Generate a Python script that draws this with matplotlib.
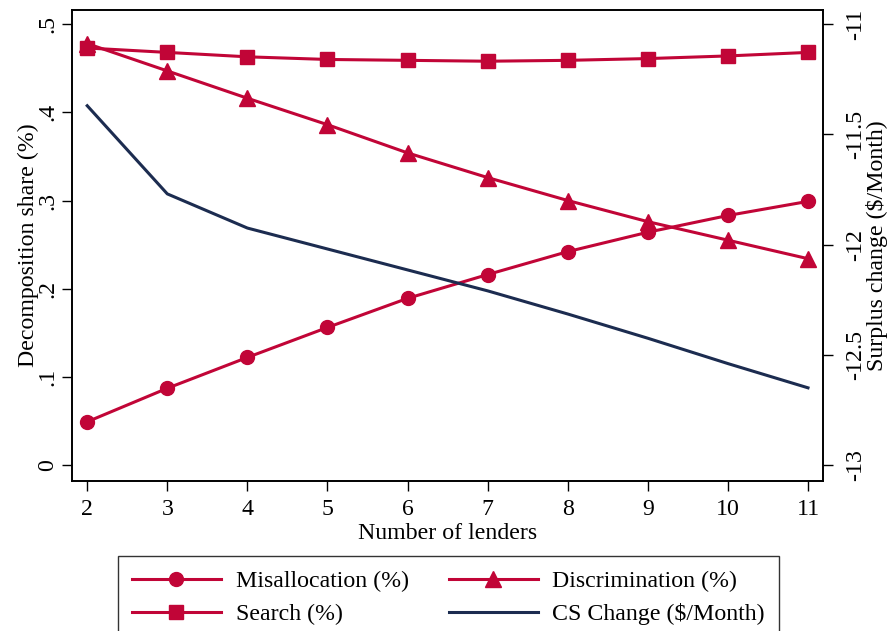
import matplotlib
matplotlib.use("Agg")
import matplotlib.pyplot as plt

plt.rcParams["font.family"] = ["Liberation Serif", "DejaVu Serif"]

lenders = [2, 3, 4, 5, 6, 7, 8, 9, 10, 11]
misallocation = [0.049, 0.087, 0.122, 0.156, 0.189, 0.216, 0.242, 0.264, 0.283, 0.299]
discrimination = [0.478, 0.447, 0.416, 0.386, 0.354, 0.326, 0.300, 0.276, 0.255, 0.234]
search = [0.473, 0.468, 0.463, 0.460, 0.459, 0.458, 0.459, 0.461, 0.464, 0.468]
cs_change = [-11.37, -11.77, -11.925, -12.02, -12.115, -12.21, -12.315, -12.425, -12.54, -12.65]

left_ticks = [0, 0.1, 0.2, 0.3, 0.4, 0.5]
left_labels = ["0", ".1", ".2", ".3", ".4", ".5"]
right_ticks = [-13, -12.5, -12, -11.5, -11]
right_labels = ["-13", "-12.5", "-12", "-11.5", "-11"]

red = "#C10537"
navy = "#1C2C50"
fs = 17.2

fig = plt.figure(figsize=(8.89, 6.31), dpi=100)
ax = fig.add_axes([0.081, 0.238, 0.845, 0.746])
ax2 = ax.twinx()

l1, = ax.plot(lenders, misallocation, color=red, lw=2.2, marker="o", ms=10, label="Misallocation (%)")
l2, = ax.plot(lenders, discrimination, color=red, lw=2.2, marker="^", ms=11, label="Discrimination (%)")
l3, = ax.plot(lenders, search, color=red, lw=2.2, marker="s", ms=9.5, label="Search (%)")
l4, = ax2.plot(lenders, cs_change, color=navy, lw=2.2, label="CS Change ($/Month)")

ax.set_xlim(1.81, 11.19)
ax.set_ylim(-0.018, 0.516)
ax2.set_ylim(-13.072, -10.936)

ax.set_xticks(lenders)
ax.set_yticks(left_ticks)
ax.set_yticklabels(left_labels)
ax2.set_yticks(right_ticks)
ax2.set_yticklabels(right_labels)

ax.tick_params(axis="both", labelsize=fs, length=7, width=1, direction="out")
ax.tick_params(axis="x", pad=6)
ax.tick_params(axis="y", labelrotation=90, pad=3)
ax2.tick_params(axis="y", labelsize=fs, length=7, width=1, direction="out", labelrotation=90, pad=9)
for lab in ax.get_yticklabels() + ax2.get_yticklabels():
    lab.set_va("center")

ax.set_xlabel("Number of lenders", fontsize=fs, labelpad=2)
ax.set_ylabel("Decomposition share (%)", fontsize=fs, labelpad=-1)
ax2.set_ylabel("Surplus change ($/Month)", fontsize=fs, rotation=90, labelpad=0)

for a in (ax, ax2):
    for s in a.spines.values():
        s.set_linewidth(1.2)
        s.set_color("black")

# row-wise order in the legend: Misallocation, Discrimination / Search, CS Change
leg = fig.legend([l1, l3, l2, l4], [l.get_label() for l in (l1, l3, l2, l4)],
                 loc="upper left", bbox_to_anchor=(0.1327, 0.119), ncol=2,
                 fontsize=fs, frameon=True, fancybox=False, edgecolor="black",
                 handlelength=3.7, handletextpad=0.62, columnspacing=1.7,
                 borderpad=0.6, labelspacing=0.47, borderaxespad=0)
leg.get_frame().set_linewidth(1.0)

fig.savefig("out.png", dpi=100)
